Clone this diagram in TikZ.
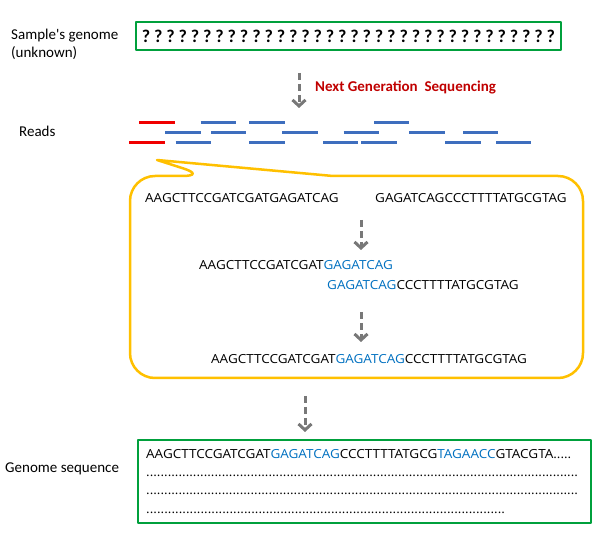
\documentclass[tikz,border=0pt]{standalone}
\usepackage{fontspec}
\setmainfont{Carlito}
\newfontfamily\seqfont[FakeStretch=1.08]{Open Sans}
\usetikzlibrary{arrows.meta, positioning}

\definecolor{boxgreen}{RGB}{0,160,60}
\definecolor{calloutorange}{RGB}{255,192,0}
\definecolor{readblue}{RGB}{62,110,190}
\definecolor{readred}{RGB}{240,0,0}
\definecolor{seqblue}{RGB}{0,112,192}
\definecolor{ngsred}{RGB}{192,0,0}
\definecolor{arrowgray}{RGB}{120,120,120}
\newcommand{\overlapseq}[1]{\textcolor{seqblue}{#1}}

\begin{document}
\begin{tikzpicture}[x=1pt,y=-1pt,line join=round,
  label/.style={font=\fontsize{15}{18}\selectfont, anchor=base west, inner sep=0pt},
  seq/.style={font=\seqfont\fontsize{12.5}{15}\selectfont, anchor=base west, inner sep=0pt},
  qmark/.style={font=\bfseries\fontsize{18}{20}\selectfont, inner sep=0pt},
  flow/.style={draw=arrowgray, line width=3pt, dash pattern=on 7pt off 4pt, -{Straight Barb[length=6pt,width=13pt]}},
  seqbox/.style={draw=boxgreen, line width=2.5pt, inner sep=0pt}]
\useasboundingbox (0,0) rectangle (600,534);

% Unknown genome
\node [label] (sample) at (11,40) {Sample\textquotesingle s genome};
\node [label] (unknown) at (11,58) {(unknown)};
\node [seqbox, minimum width=425pt, minimum height=28pt] (genome) at (348.5,36) {};
\foreach \i in {0,...,33}
\node [qmark] (q\i) at ({146+12.27*\i},36) {?};

% Sequencing
\coordinate (ngs start) at (299,73);
\coordinate (ngs end) at (299,108);
\draw [flow] (ngs start) -- (ngs end);
\node [label, font=\bfseries\fontsize{15}{18}\selectfont, text=ngsred] (ngs) at (315,92) {Next Generation~~Sequencing};

% Reads
\node [label] (reads) at (19,137) {Reads};
\foreach \a/\b/\y in {200.7/236/122.7, 249.3/284.7/122.7, 374/409.3/122.7,
  165.3/200.7/132.3, 211/246.3/132.3, 282.3/317.7/132.3, 343.7/379/132.3, 409.3/444.7/132.3, 463/498.3/132.3,
  175.7/211/142.7, 249.3/284.7/142.7, 323/358.3/142.7, 361.3/396.7/142.7, 445.3/480.7/142.7, 496/531.3/142.7}
\draw [line width=2.5pt, color=readblue] (\a,\y) -- (\b,\y);
\foreach \a/\b/\y in {139.3/175/122.7, 129/164.7/142.7}
\draw [line width=2.5pt, color=readred] (\a,\y) -- (\b,\y);

% Callout
\draw [line width=2.5pt, color=calloutorange] (207,176) -- (157,160) -- (333,176)
  [rounded corners=25pt] -- (583,176) -- (583,378) -- (130,378) -- (130,176) -- cycle;

% Assembly
\node [seq] (read a) at (145,203) {AAGCTTCCGATCGATGAGATCAG};
\node [seq] (read b) at (375,203) {GAGATCAGCCCTTTTATGCGTAG};
\coordinate (overlap start) at (361,220);
\coordinate (overlap end) at (361,250);
\draw [flow] (overlap start) -- (overlap end);
\node [seq] (overlap a) at (199,270) {AAGCTTCCGATCGAT\overlapseq{GAGATCAG}};
\node [seq] (overlap b) at (327,290) {\overlapseq{GAGATCAG}CCCTTTTATGCGTAG};
\coordinate (merge start) at (361,312);
\coordinate (merge end) at (361,342);
\draw [flow] (merge start) -- (merge end);
\node [seq] (merged) at (211,363.5) {AAGCTTCCGATCGAT\overlapseq{GAGATCAG}CCCTTTTATGCGTAG};

% Genome sequence
\coordinate (result start) at (305,396);
\coordinate (result end) at (305,432);
\draw [flow] (result start) -- (result end);
\node [label] (result) at (5,473) {Genome sequence};
\node [seqbox, minimum width=453pt, minimum height=83pt] (sequence) at (364.5,481.5) {};
\node [seq] (line 1) at (146,458.5) {AAGCTTCCGATCGAT\overlapseq{GAGATCAG}CCCTTTTATGCG\overlapseq{TAGAACC}GTACGTA.....};
\node [seq] (line 2) at (146,477) {\hbox to 432pt{\xleaders\hbox{.}\hfill}};
\node [seq] (line 3) at (146,495) {\hbox to 432pt{\xleaders\hbox{.}\hfill}};
\node [seq] (line 4) at (146,513.5) {\hbox to 359pt{\xleaders\hbox{.}\hfill}};
\end{tikzpicture}
\end{document}
